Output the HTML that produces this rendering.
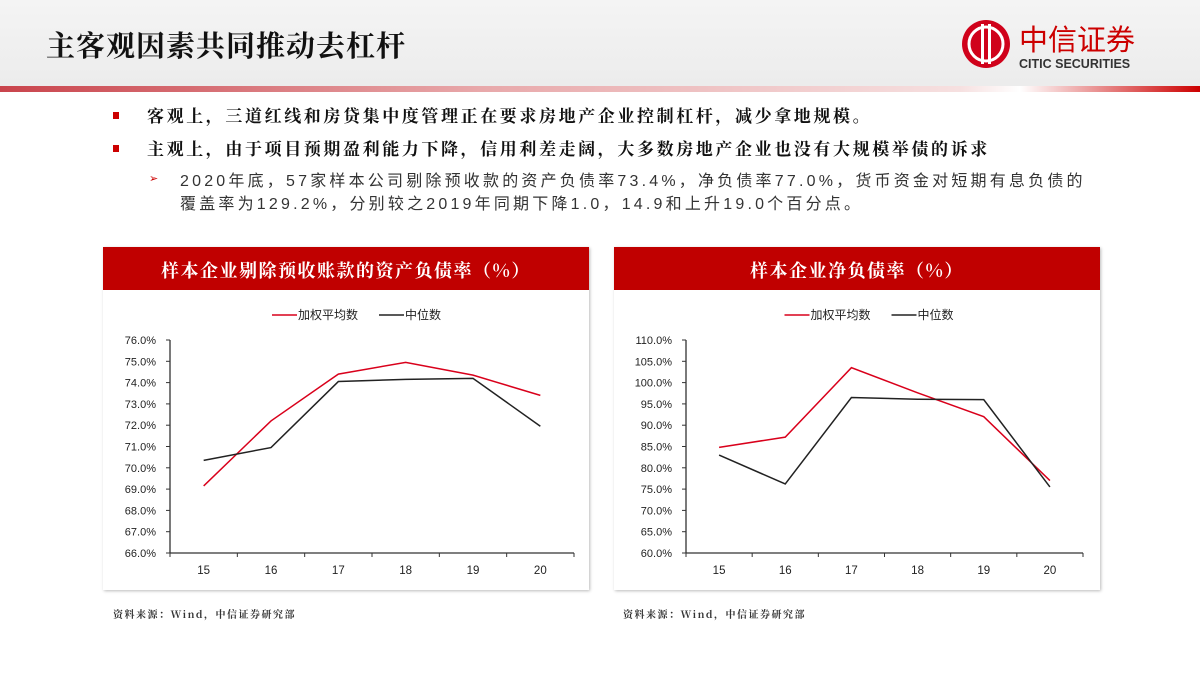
<!DOCTYPE html>
<html><head><meta charset="utf-8">
<style>
body{margin:0;width:1200px;height:675px;background:#fff;position:relative;overflow:hidden;font-family:"Liberation Sans","Noto Sans CJK SC",sans-serif;}
.abs{position:absolute;}
#hdr{left:0;top:0;width:1200px;height:86px;background:linear-gradient(#f4f4f4,#ececec);}
#title{left:46px;top:24px;font-size:29px;letter-spacing:1px;font-weight:bold;color:#111;font-family:"Noto Serif CJK SC","Noto Sans CJK SC",serif;}
#rule{left:0;top:86px;width:1200px;height:6px;background:linear-gradient(90deg,#c9444c 0%,#e8a8aa 40%,#f6e0e0 80%,#fff 85%,#c00 100%);}
.b{font-size:17px;letter-spacing:2.6px;font-weight:bold;color:#111;font-family:"Noto Serif CJK SC","Noto Sans CJK SC",serif;white-space:nowrap;}
.sq{width:6px;height:7px;background:#c00;}
.sub{font-size:16px;letter-spacing:3.2px;color:#333;line-height:23px;white-space:nowrap;}
.panel{top:247px;width:486px;height:343px;background:#fff;box-shadow:1px 1px 3px #bbb;}
.ph{top:0;left:0;width:100%;height:43px;background:#c00000;color:#fff;font-weight:bold;font-size:18px;letter-spacing:1.5px;text-align:center;line-height:46px;font-family:"Noto Serif CJK SC","Noto Sans CJK SC",serif;}
.src{top:606px;font-size:10px;letter-spacing:1.5px;font-weight:bold;color:#333;font-family:"Noto Serif CJK SC",serif;}
</style></head><body>
<div class="abs" id="hdr"></div>
<div class="abs" id="title">主客观因素共同推动去杠杆</div>
<div class="abs" style="left:961px;top:18px;width:200px;height:54px;">
<svg width="200" height="54"><circle cx="25" cy="26" r="24" fill="#d0021b"/><circle cx="25" cy="26" r="17" fill="none" stroke="#fff" stroke-width="3"/><rect x="20" y="6" width="3" height="40" fill="#fff"/><rect x="27" y="6" width="3" height="40" fill="#fff"/>
<text x="58" y="32" font-size="29" fill="#c00" font-family="Noto Sans CJK SC">中信证券</text>
<text x="58" y="50" font-size="12.5" font-weight="bold" fill="#333" font-family="Liberation Sans">CITIC SECURITIES</text></svg></div>
<div class="abs" id="rule"></div>
<div class="abs sq" style="left:113px;top:112px"></div>
<div class="abs b" style="left:147px;top:102px">客观上，三道红线和房贷集中度管理正在要求房地产企业控制杠杆，减少拿地规模。</div>
<div class="abs sq" style="left:113px;top:145px"></div>
<div class="abs b" style="left:147px;top:135px">主观上，由于项目预期盈利能力下降，信用利差走阔，大多数房地产企业也没有大规模举债的诉求</div>
<div class="abs" style="left:149px;top:172px;color:#c00;font-size:11px">➢</div>
<div class="abs sub" style="left:180px;top:170px">2020年底，57家样本公司剔除预收款的资产负债率73.4%，净负债率77.0%，货币资金对短期有息负债的<br>覆盖率为129.2%，分别较之2019年同期下降1.0，14.9和上升19.0个百分点。</div>

<div class="abs panel" style="left:103px"><div class="abs ph">样本企业剔除预收账款的资产负债率（%）</div></div>
<div class="abs panel" style="left:614px"><div class="abs ph">样本企业净负债率（%）</div></div>
<div class="abs src" style="left:113px">资料来源：Wind，中信证券研究部</div>
<div class="abs src" style="left:623px">资料来源：Wind，中信证券研究部</div>
<svg class="abs" style="left:0;top:0" width="1200" height="675" id="charts"></svg>
<script>
const categories=["15","16","17","18","19","20"];
const leftWeighted=[69.15,72.2,74.4,74.95,74.35,73.4];
const leftMedian=[70.35,70.95,74.05,74.15,74.2,71.95];
const leftTicks=[66,67,68,69,70,71,72,73,74,75,76];
const rightWeighted=[84.8,87.2,103.5,97.6,92.0,77.0];
const rightMedian=[83.0,76.2,96.5,96.1,96.0,75.5];
const rightTicks=[60,65,70,75,80,85,90,95,100,105,110];
const NS="http://www.w3.org/2000/svg";
const svg=document.getElementById('charts');
function mk(t,a){const e=document.createElementNS(NS,t);for(const k in a)e.setAttribute(k,a[k]);svg.appendChild(e);return e;}
function chart(x0,x1,ticks,w,m,pre){
 const y0=553,y1=340,mn=ticks[0],mx=ticks[ticks.length-1];
 const Y=v=>y0-(v-mn)/(mx-mn)*(y0-y1);
 const bw=(x1-x0)/categories.length;const X=i=>x0+bw*(i+0.5);
 let e=mk('line',{x1:x0,y1:y1,x2:x0,y2:y0,stroke:'#333','stroke-width':1.3});
 
 e=mk('line',{x1:x0,y1:y0,x2:x1,y2:y0,stroke:'#333','stroke-width':1.3});
 
 ticks.forEach(t=>{mk('line',{x1:x0-4,y1:Y(t),x2:x0,y2:Y(t),stroke:'#333'});
  e=mk('text',{x:x0-14,y:Y(t)+4,'text-anchor':'end','font-size':11,fill:'#222'});e.textContent=t.toFixed(1)+'%';
  });
 for(let i=0;i<=categories.length;i++)mk('line',{x1:x0+bw*i,y1:y0,x2:x0+bw*i,y2:y0+4,stroke:'#333'});
 categories.forEach((c,i)=>{e=mk('text',{x:X(i),y:y0+21,'text-anchor':'middle','font-size':11.5,fill:'#222'});e.textContent=c;
  });
 [[w,'#d9001b','weighted'],[m,'#222','median']].forEach(([d,c,n])=>{
  e=mk('polyline',{points:d.map((v,i)=>X(i)+','+Y(v)).join(' '),fill:'none',stroke:c,'stroke-width':1.5});
  });
 const lx=(x0+x1)/2-100;
 mk('line',{x1:lx,y1:315,x2:lx+25,y2:315,stroke:'#d9001b','stroke-width':1.5});
 e=mk('text',{x:lx+26,y:319,'font-size':12,fill:'#222'});e.textContent='加权平均数';
 
 mk('line',{x1:lx+107,y1:315,x2:lx+132,y2:315,stroke:'#222','stroke-width':1.5});
 e=mk('text',{x:lx+133,y:319,'font-size':12,fill:'#222'});e.textContent='中位数';
 
}
chart(170,574,leftTicks,leftWeighted,leftMedian,'left');
chart(686,1083,rightTicks,rightWeighted,rightMedian,'right');
</script>
</body></html>
